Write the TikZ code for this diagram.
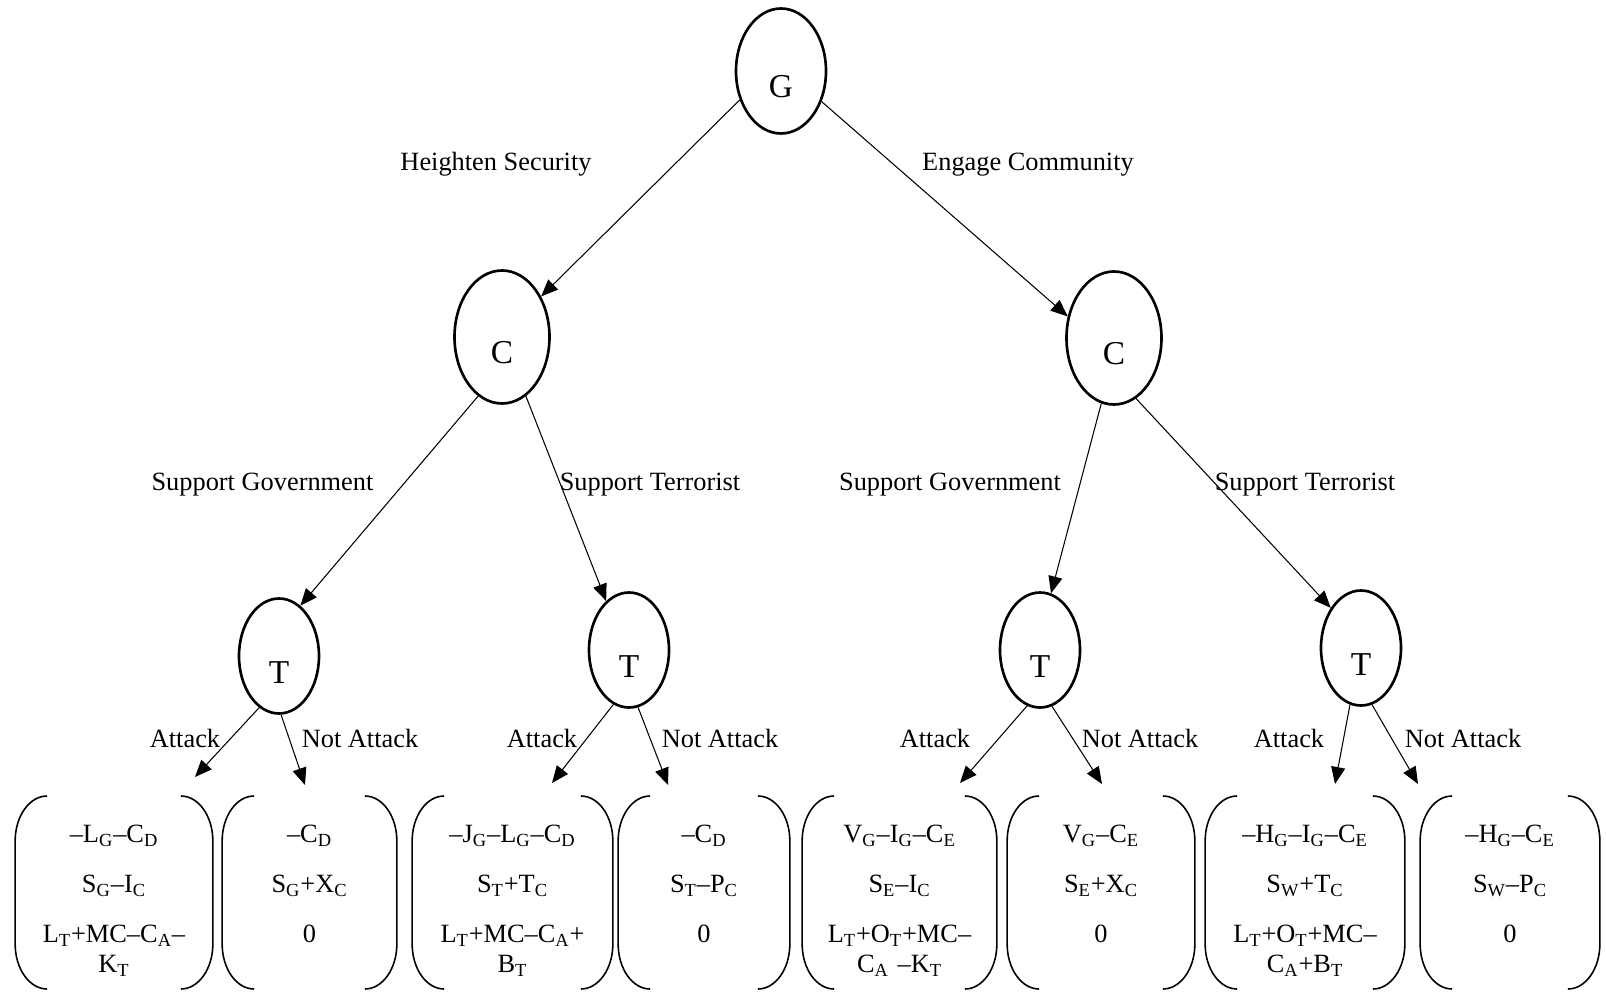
\documentclass[tikz,border=0pt]{standalone}
\usepackage{fontspec}
\setmainfont{Liberation Serif}
\usetikzlibrary{arrows.meta,shapes.geometric}

\newcommand{\idx}[1]{\textsubscript{#1}}
% rounded brackets left and right of a payoff node
\newcommand{\payoffframe}[1]{%
  \draw[bracket] ([xshift=0.64cm]#1.north west) arc[start angle=90,end angle=180,x radius=0.64cm,y radius=0.9cm]
    -- ++(0,-2.06) arc[start angle=180,end angle=270,x radius=0.64cm,y radius=0.9cm];
  \draw[bracket] ([xshift=-0.64cm]#1.north east) arc[start angle=90,end angle=0,x radius=0.64cm,y radius=0.9cm]
    -- ++(0,-2.06) arc[start angle=0,end angle=-90,x radius=0.64cm,y radius=0.9cm];}

\tikzset{
  player/.style={ellipse,draw,line width=1.5pt,inner sep=0pt,
    font=\fontsize{19}{22}\selectfont,text height=1.08cm,text depth=0pt},
  move/.style={draw,semithick,-{Triangle[length=0.34cm,width=0.28cm]}},
  choice/.style={anchor=base,font=\fontsize{15}{18}\selectfont},
  payoff/.style={anchor=north,align=center,inner xsep=0pt,inner ysep=0.58cm,
    font=\fontsize{15}{17}\selectfont},
  bracket/.style={line width=0.9pt}
}

\begin{document}
\begin{tikzpicture}
    \useasboundingbox (0,0) rectangle (32.12,-19.84);

    \node[player,minimum width=1.8cm,minimum height=2.5cm] (g) at (15.62,-1.42) {G};
    \node[player,minimum width=1.9cm,minimum height=2.66cm] (cl) at (10.04,-6.74) {C};
    \node[player,minimum width=1.9cm,minimum height=2.66cm] (cr) at (22.28,-6.76) {C};
    \node[player,minimum width=1.6cm,minimum height=2.3cm] (t1) at (5.58,-13.12) {T};
    \node[player,minimum width=1.6cm,minimum height=2.3cm] (t2) at (12.58,-13.0) {T};
    \node[player,minimum width=1.6cm,minimum height=2.3cm] (t3) at (20.8,-13.0) {T};
    \node[player,minimum width=1.6cm,minimum height=2.3cm] (t4) at (27.22,-12.96) {T};

    \node[choice] (hs) at (9.92,-3.42) {Heighten Security};
    \node[choice] (ec) at (20.56,-3.42) {Engage Community};
    \node[choice] (sg1) at (5.25,-9.8) {Support Government};
    \node[choice] (st1) at (13.0,-9.8) {Support Terrorist};
    \node[choice] (sg2) at (19.0,-9.8) {Support Government};
    \node[choice] (st2) at (26.1,-9.8) {Support Terrorist};

    \node[choice] (at1) at (3.70,-14.94) {Attack};
    \node[choice] (na1) at (7.20,-14.94) {Not Attack};
    \node[choice] (at2) at (10.84,-14.94) {Attack};
    \node[choice] (na2) at (14.40,-14.94) {Not Attack};
    \node[choice] (at3) at (18.70,-14.94) {Attack};
    \node[choice] (na3) at (22.80,-14.94) {Not Attack};
    \node[choice] (at4) at (25.78,-14.94) {Attack};
    \node[choice] (na4) at (29.26,-14.94) {Not Attack};

    % arrow ends above the payoffs
    \coordinate (a1) at (3.90,-15.54);
    \coordinate (n1) at (6.10,-15.70);
    \coordinate (a2) at (11.04,-15.66);
    \coordinate (n2) at (13.36,-15.70);
    \coordinate (a3) at (19.20,-15.66);
    \coordinate (n3) at (22.04,-15.68);
    \coordinate (a4) at (26.70,-15.68);
    \coordinate (n4) at (28.36,-15.68);

    \path (g.215) edge[move] (cl.46);
    \path (g.323) edge[move] (cr.155);
    \path (cl.248) edge[move] (t1.67);
    \path (cl.292) edge[move] (t2.115);
    \path (cr.259) edge[move] (t3.79);
    \path (cr.290) edge[move] (t4.127);
    \path (t1.249) edge[move] (a1);
    \path (t1.272) edge[move] (n1);
    \path (t2.254) edge[move] (a2);
    \path (t2.279) edge[move] (n2);
    \path (t3.257) edge[move] (a3);
    \path (t3.282) edge[move] (n3);
    \path (t4.259) edge[move] (a4);
    \path (t4.281) edge[move] (n4);

    \node[payoff,text width=3.94cm] (p1) at (2.28,-15.92)
      {–L\idx{G}–C\idx{D}\\[0.4cm] S\idx{G}–I\idx{C}\\[0.4cm] L\idx{T}+MC–C\idx{A}–\\K\idx{T}};
    \node[payoff,text width=3.48cm] (p2) at (6.19,-15.92)
      {–C\idx{D}\\[0.4cm] S\idx{G}+X\idx{C}\\[0.4cm] 0};
    \node[payoff,text width=4.0cm] (p3) at (10.25,-15.92)
      {–J\idx{G}–L\idx{G}–C\idx{D}\\[0.4cm] S\idx{T}+T\idx{C}\\[0.4cm] L\idx{T}+MC–C\idx{A}+\\B\idx{T}};
    \node[payoff,text width=3.42cm] (p4) at (14.08,-15.92)
      {–C\idx{D}\\[0.4cm] S\idx{T}–P\idx{C}\\[0.4cm] 0};
    \node[payoff,text width=3.88cm] (p5) at (17.99,-15.92)
      {V\idx{G}–I\idx{G}–C\idx{E}\\[0.4cm] S\idx{E}–I\idx{C}\\[0.4cm] L\idx{T}+O\idx{T}+MC–\\C\idx{A} –K\idx{T}};
    \node[payoff,text width=3.74cm] (p6) at (22.02,-15.92)
      {V\idx{G}–C\idx{E}\\[0.4cm] S\idx{E}+X\idx{C}\\[0.4cm] 0};
    \node[payoff,text width=3.98cm] (p7) at (26.10,-15.92)
      {–H\idx{G}–I\idx{G}–C\idx{E}\\[0.4cm] S\idx{W}+T\idx{C}\\[0.4cm] L\idx{T}+O\idx{T}+MC–\\C\idx{A}+B\idx{T}};
    \node[payoff,text width=3.58cm] (p8) at (30.20,-15.92)
      {–H\idx{G}–C\idx{E}\\[0.4cm] S\idx{W}–P\idx{C}\\[0.4cm] 0};

    \payoffframe{p1}
    \payoffframe{p2}
    \payoffframe{p3}
    \payoffframe{p4}
    \payoffframe{p5}
    \payoffframe{p6}
    \payoffframe{p7}
    \payoffframe{p8}
  \end{tikzpicture}
\end{document}
